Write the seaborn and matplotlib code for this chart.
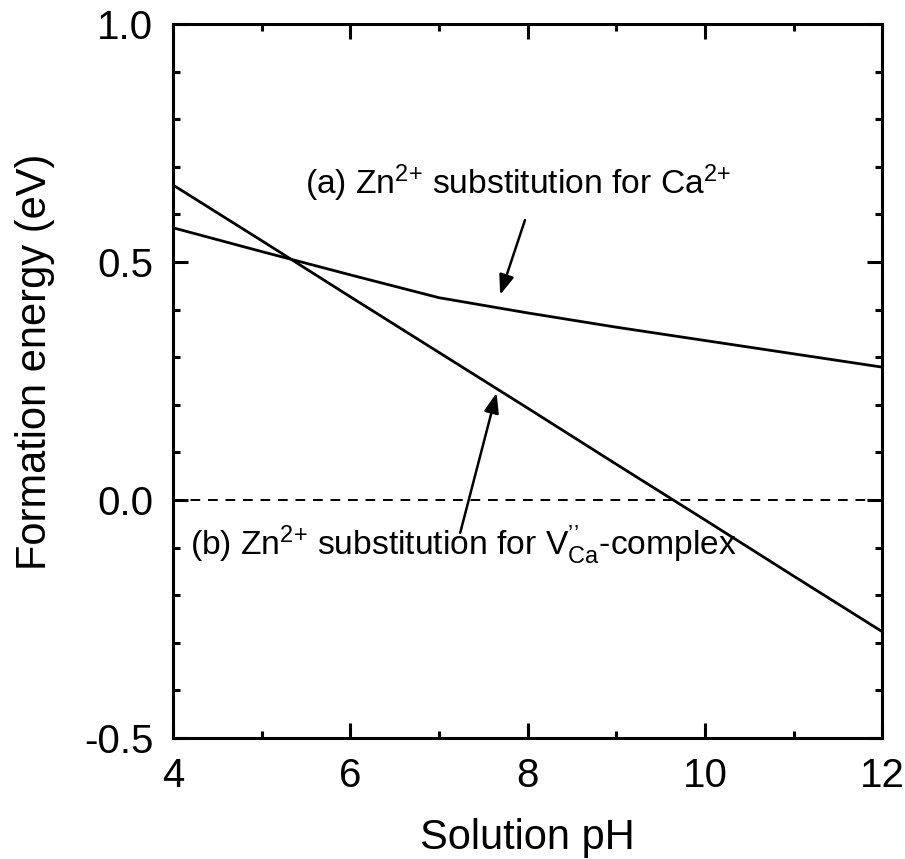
import numpy as np
import pandas as pd
import matplotlib
matplotlib.use("Agg")
import matplotlib.pyplot as plt
import seaborn as sns
from matplotlib.ticker import MultipleLocator

# values
ph = [4, 5, 6, 7, 8, 9, 10, 11, 12]
e_ca = [0.572, 0.522, 0.473, 0.425, 0.393, 0.363, 0.335, 0.307, 0.279]
e_vca = [0.662, 0.545, 0.427, 0.310, 0.193, 0.075, -0.042, -0.160, -0.277]

df = pd.DataFrame({'pH': ph * 2,
                   'E': e_ca + e_vca,
                   'case': ['a'] * len(ph) + ['b'] * len(ph)})

sns.set_style('ticks', {'text.color': 'black', 'axes.labelcolor': 'black',
                        'axes.edgecolor': 'black'})
plt.rcParams['font.family'] = ['Liberation Sans', 'DejaVu Sans']
plt.rcParams['mathtext.fontset'] = 'custom'
plt.rcParams['mathtext.rm'] = 'Liberation Sans'
plt.rcParams['mathtext.it'] = 'Liberation Sans'

fig = plt.figure(figsize=(9.05, 8.59), dpi=100)
ax = fig.add_axes([0.191, 0.141, 0.784, 0.831])

sns.lineplot(data=df, x='pH', y='E', units='case', estimator=None,
             color='black', lw=2.0, ax=ax)
ax.axhline(0, color='black', lw=1.4, ls=(0, (5, 4)))

ax.set_xlim(4, 12)
ax.set_ylim(-0.5, 1.0)
ax.xaxis.set_major_locator(MultipleLocator(2))
ax.xaxis.set_minor_locator(MultipleLocator(1))
ax.yaxis.set_major_locator(MultipleLocator(0.5))
ax.yaxis.set_minor_locator(MultipleLocator(0.1))
ax.yaxis.set_major_formatter(matplotlib.ticker.FormatStrFormatter('%.1f'))

for s in ax.spines.values():
    s.set_visible(True)
    s.set_linewidth(2.2)
    s.set_color('black')
ax.tick_params(which='both', direction='in', top=True, right=True, width=2.2,
               labelsize=29, colors='black', pad=14)
ax.tick_params(which='major', length=11)
ax.tick_params(which='minor', length=5)

ax.set_xlabel('Solution pH', fontsize=30, labelpad=16, color='black')
ax.set_ylabel('Formation energy (eV)', fontsize=30, color='black')
ax.yaxis.set_label_coords(-0.166, 0.527)

ax.text(5.49, 0.666, r'(a) Zn$^{2{+}}$ substitution for Ca$^{2{+}}$',
        fontsize=24.2, va='center', ha='left', color='black')
ax.annotate('', xy=(7.69, 0.431), xytext=(7.97, 0.588),
            arrowprops=dict(arrowstyle='-|>,head_length=1.2,head_width=0.45',
                            color='black', lw=1.8, shrinkA=0, shrinkB=0))

ax.text(4.19, -0.095, "(b) Zn$^{2{+}}$ substitution for V$^{\\mathrm{\u2019\u2019}}_{\\mathrm{Ca}}$-complex",
        fontsize=24.2, va='center', ha='left', color='black')
ax.annotate('', xy=(7.65, 0.225), xytext=(7.24, -0.069),
            arrowprops=dict(arrowstyle='-|>,head_length=1.2,head_width=0.45',
                            color='black', lw=1.8, shrinkA=0, shrinkB=0))

fig.savefig('out.png', dpi=100)
